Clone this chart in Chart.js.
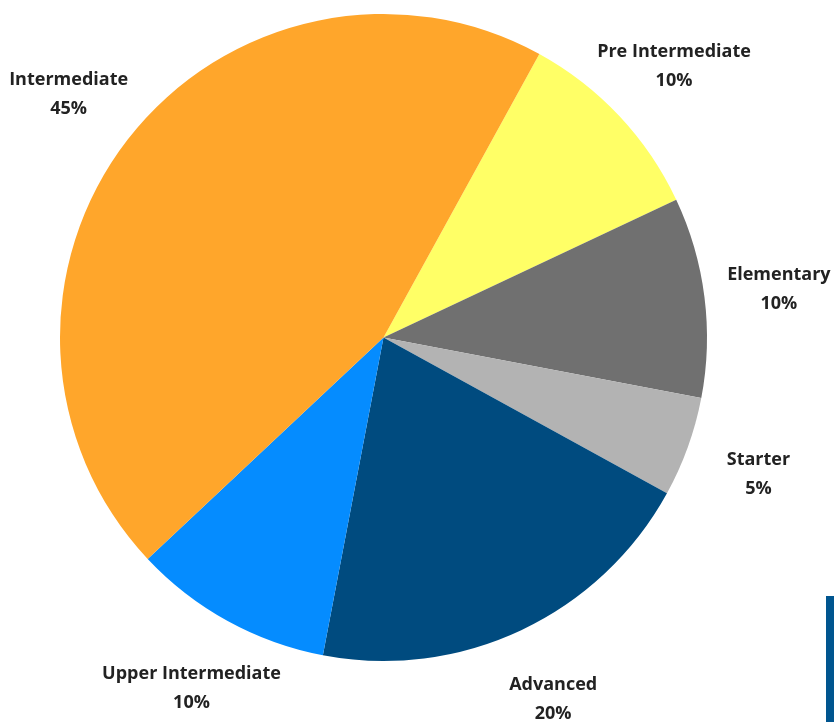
<!DOCTYPE html>
<html>
<head>
<meta charset="utf-8">
<script src="https://cdn.jsdelivr.net/npm/chart.js@4/dist/chart.umd.min.js"></script>
<style>
  html, body { margin: 0; padding: 0; background: #fff; }
  #wrap { position: relative; width: 834px; height: 722px; }
  #bar { position: absolute; left: 826px; top: 596px; width: 8px; height: 126px; background: #00558F; }
</style>
</head>
<body>
<div id="wrap">
  <canvas id="c" width="834" height="722"></canvas>
  <div id="bar"></div>
</div>
<script>
const categories = ["Pre Intermediate", "Elementary", "Starter", "Advanced", "Upper Intermediate", "Intermediate"];
const shares = [10, 10, 5, 20, 10, 45];
const sliceColors = ["#FFFF66", "#707070", "#B3B3B3", "#004B7F", "#058CFF", "#FFA62B"];

const outLabels = {
  id: 'outLabels',
  afterDatasetsDraw(chart) {
    const ctx = chart.ctx;
    const meta = chart.getDatasetMeta(0);
    const data = chart.data.datasets[0].data;
    const total = data.reduce((a, b) => a + b, 0);
    ctx.save();
    ctx.font = 'bold 18px "Open Sans", "Noto Sans", sans-serif';
    ctx.fillStyle = '#222222';
    ctx.textAlign = 'center';
    ctx.textBaseline = 'middle';
    meta.data.forEach((arc, i) => {
      const p = arc.getProps(['x', 'y', 'startAngle', 'endAngle', 'outerRadius'], true);
      const mid = (p.startAngle + p.endAngle) / 2;
      const r = p.outerRadius + 75;
      const cx = p.x + Math.cos(mid) * r;
      const cy = p.y + Math.sin(mid) * r + 1.5;
      const pct = Math.round(data[i] / total * 100) + '%';
      ctx.fillText(chart.data.labels[i], cx, cy - 14.5);
      ctx.fillText(pct, cx, cy + 14.5);
    });
    ctx.restore();
  }
};

new Chart(document.getElementById('c'), {
  type: 'pie',
  data: {
    labels: categories,
    datasets: [{
      data: shares,
      backgroundColor: sliceColors,
      borderWidth: 0,
      hoverOffset: 0
    }]
  },
  options: {
    responsive: false,
    animation: false,
    rotation: 28.8,
    layout: { padding: { left: 60, right: 127, top: 14, bottom: 61 } },
    plugins: {
      legend: { display: false },
      tooltip: { enabled: false }
    },
    events: []
  },
  plugins: [outLabels]
});
</script>
</body>
</html>
